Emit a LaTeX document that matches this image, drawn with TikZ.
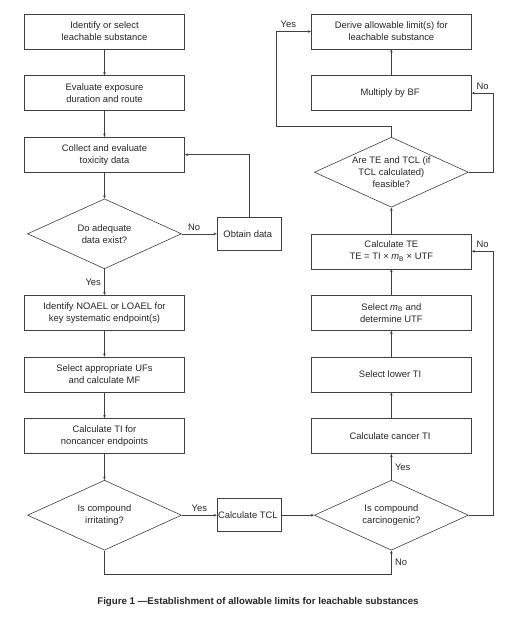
\documentclass[tikz,border=0pt]{standalone}
\usepackage{fontspec}
\setmainfont{Liberation Sans}
\usetikzlibrary{positioning,shapes.geometric,arrows.meta}

\begin{document}
\begin{tikzpicture}[x=1pt,y=1pt,node distance=26pt and 35pt,font=\fontsize{9.4}{12}\selectfont,text=black!85,
   box/.style={draw=black!75,line width=0.6pt,shape=rectangle,minimum width=160pt,minimum height=35pt,align=center,inner sep=2pt},
   small box/.style={box,minimum width=64pt,minimum height=33pt,inner xsep=1pt},
   dia/.style={draw=black!75,line width=0.6pt,shape=diamond,minimum width=154pt,minimum height=70pt,shape aspect=2.2,inner sep=0pt,align=center},
   line/.style={draw=black!75,line width=0.6pt,-{Stealth[length=3.2pt,width=2.6pt]}}]
   \useasboundingbox (0,0) rectangle (513,-619);
   % left column
   \node[box                ] (id)       at (104.5,-31.5) { Identify or select\\leachable substance } ;
   \node[box,below=of id    ] (expo)     { Evaluate exposure\\duration and route } ;
   \node[box,below=of expo  ] (collect)  { Collect and evaluate\\toxicity data } ;
   \node[dia,below=of collect] (adequate) { Do adequate\\data exist? } ;
   \node[small box,right=of adequate] (obtain) { Obtain data } ;
   \node[box,below=of adequate] (noael)  { Identify NOAEL or LOAEL for\\key systematic endpoint(s) } ;
   \node[box,below=of noael ] (ufs)      { Select appropriate UFs\\and calculate MF } ;
   \node[box,below=of ufs   ] (tinc)     { Calculate TI for\\noncancer endpoints } ;
   \node[dia,below=of tinc  ] (irrit)    { Is compound\\irritating? } ;
   \node[small box,right=of irrit] (tcl) { Calculate TCL } ;
   % right column
   \node[dia,right=32.5pt of tcl] (carc) { Is compound\\carcinogenic? } ;
   \node[box,above=of carc  ] (cancer)   { Calculate cancer TI } ;
   \node[box,above=of cancer] (lower)    { Select lower TI } ;
   \node[box,above=of lower ] (mb)       { Select \textit{m}\textsubscript{B} and\\determine UTF } ;
   \node[box,above=of mb    ] (te)       { Calculate TE\\TE = TI × \textit{m}\textsubscript{B} × UTF } ;
   \node[dia,above=of te    ] (feas)     { Are TE and TCL (if\\TCL calculated)\\feasible? } ;
   \node[box,above=of feas  ] (bf)       { Multiply by BF } ;
   \node[box,above=of bf    ] (derive)   { Derive allowable limit(s) for\\leachable substance } ;
   \node[font=\fontsize{9.7}{11}\selectfont\bfseries] (caption) at (258,-602)
        { Figure 1 —Establishment of allowable limits for leachable substances } ;
   % turning points
   \coordinate[below=24pt of irrit] (irrit low);
   \coordinate[right=25pt of carc ] (carc right);
   \coordinate[above=11pt of feas ] (feas top);
   \coordinate[left=35pt of derive] (derive left);
   % connectors
   \foreach \a/\b in {id/expo,expo/collect,collect/adequate,noael/ufs,ufs/tinc,tinc/irrit,
                      tcl/carc,cancer/lower,lower/mb,mb/te,te/feas,bf/derive}
      \draw[line] (\a) -- (\b);
   \draw[line] (adequate) -- node[above,pos=0.35] {No}  (obtain);
   \draw[line] (obtain.north) |- (collect.east);
   \draw[line] (adequate) -- node[left]  {Yes} (noael);
   \draw[line] (irrit)    -- node[above] {Yes} (tcl);
   \draw[line] (carc)     -- node[right] {Yes} (cancer);
   \draw[line] (irrit.south) -- (irrit low) -| node[pos=0.75,right] {No} (carc.south);
   \draw[line] (carc.east) -- (carc right) |- node[pos=0.75,above] {No} (te.east);
   \draw[line] (feas.east) -- (feas.east -| carc right) |- node[pos=0.75,above] {No} (bf.east);
   \draw[line] (feas.north) -- (feas top) -| (derive left) -- node[above,pos=0.35] {Yes} (derive.west);
\end{tikzpicture}
\end{document}
